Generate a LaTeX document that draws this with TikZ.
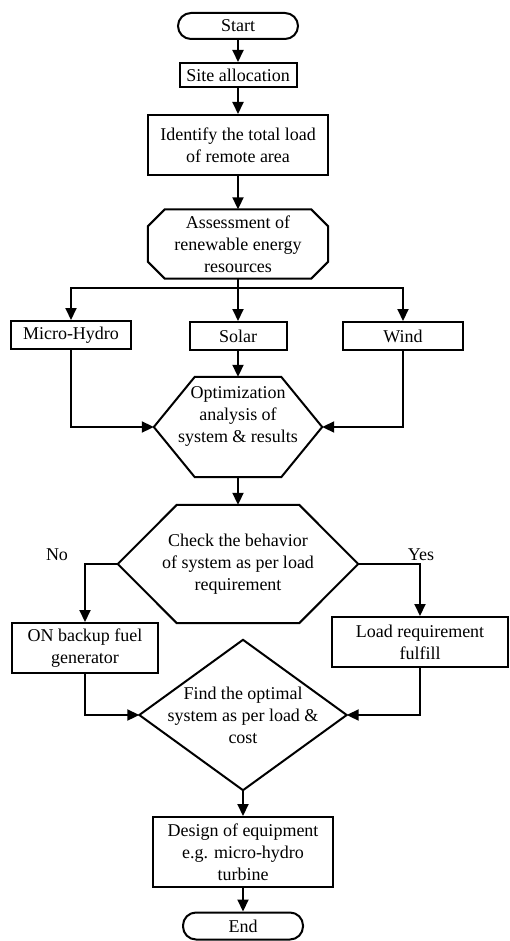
\documentclass[tikz,border=0pt]{standalone}
\usepackage{fontspec}
\setmainfont{Liberation Serif}
\usetikzlibrary{arrows.meta}
\begin{document}
\begin{tikzpicture}[x=1pt,y=-1pt,
  every node/.style={font=\fontsize{18}{22}\selectfont, align=center, inner sep=0pt},
  line/.style={line width=2pt},
  arr/.style={line, -{Triangle[length=12pt,width=11pt]}},
  box/.style={draw, line width=2pt, rectangle},
  term/.style={draw, line width=2pt, rounded corners=13pt},
  area/.style={rectangle}]
  \useasboundingbox (0,0) rectangle (510,941);
  \node[term, minimum width=120pt, minimum height=26pt] (St) at (238,26) {Start};
  \node[box, minimum width=117pt, minimum height=24pt] (SA) at (238,75) {Site allocation};
  \node[box, minimum width=180pt, minimum height=60pt] (TL) at (238,145) {Identify the total load\\of remote area};
  \node[area, minimum width=180pt, minimum height=69pt] (AR) at (238,244) {Assessment of\\renewable energy\\resources};
  \coordinate (br) at (238,288);
  \node[box, minimum width=120pt, minimum height=28pt] (MH) at (71,335) {Micro-Hydro};
  \node[box, minimum width=97pt, minimum height=28pt] (SO) at (238,336) {Solar};
  \node[box, minimum width=120pt, minimum height=28pt] (WI) at (403,336) {Wind};
  \node[area, minimum width=168pt, minimum height=100pt] (OA) at (238,427) {};
  \node (OAt) at (238,416) {Optimization\\analysis of\\system \& results};
  \node[area, minimum width=240pt, minimum height=118pt] (CB) at (238,564) {Check the behavior\\of system as per load\\requirement};
  \node (No) at (57,555) {No};
  \node (Yes) at (421,555) {Yes};
  \node[box, minimum width=146pt, minimum height=50pt] (ON) at (85,648) {ON backup fuel\\generator};
  \node[box, minimum width=176pt, minimum height=50pt] (LR) at (420,642) {Load requirement\\fulfill};
  \node[area, minimum width=207pt, minimum height=150pt] (FO) at (243,715) {Find the optimal\\system as per load \&\\cost};
  \node[box, minimum width=180pt, minimum height=70pt] (DE) at (243,852) {Design of equipment\\e.g. micro-hydro\\turbine};
  \node[term, minimum width=120pt, minimum height=27pt] (En) at (243,926) {End};
  % outlines of the shaped blocks
  \draw[line] ([xshift=17pt]AR.north west) -- ([xshift=-17pt]AR.north east) -- ([yshift=-17pt]AR.north east) -- ([yshift=17pt]AR.south east) -- ([xshift=-17pt]AR.south east) -- ([xshift=17pt]AR.south west) -- ([yshift=17pt]AR.south west) -- ([yshift=-17pt]AR.north west) -- cycle;
  \draw[line] ([xshift=41pt]OA.north west) -- ([xshift=-41pt]OA.north east) -- (OA.east) -- ([xshift=-41pt]OA.south east) -- ([xshift=41pt]OA.south west) -- (OA.west) -- cycle;
  \draw[line] ([xshift=59pt]CB.north west) -- ([xshift=-59pt]CB.north east) -- (CB.east) -- ([xshift=-59pt]CB.south east) -- ([xshift=59pt]CB.south west) -- (CB.west) -- cycle;
  \draw[line] (FO.north) -- (FO.east) -- (FO.south) -- (FO.west) -- cycle;
  % connectors
  \draw[arr] (St) -- (SA);
  \draw[arr] (SA) -- (TL);
  \draw[arr] (TL) -- (AR);
  \draw[arr] (AR) -- (SO);
  \draw[arr] (br) -| (MH.north);
  \draw[arr] (br) -| (WI.north);
  \draw[arr] (SO) -- (OA);
  \draw[arr] (MH.south) |- (OA.west);
  \draw[arr] (WI.south) |- (OA.east);
  \draw[arr] (OA) -- (CB);
  \draw[arr] (CB.west) -| (ON.north);
  \draw[arr] (CB.east) -| (LR.north);
  \draw[arr] (ON.south) |- (FO.west);
  \draw[arr] (LR.south) |- (FO.east);
  \draw[arr] (FO) -- (DE);
  \draw[arr] (DE) -- (En);
\end{tikzpicture}
\end{document}
